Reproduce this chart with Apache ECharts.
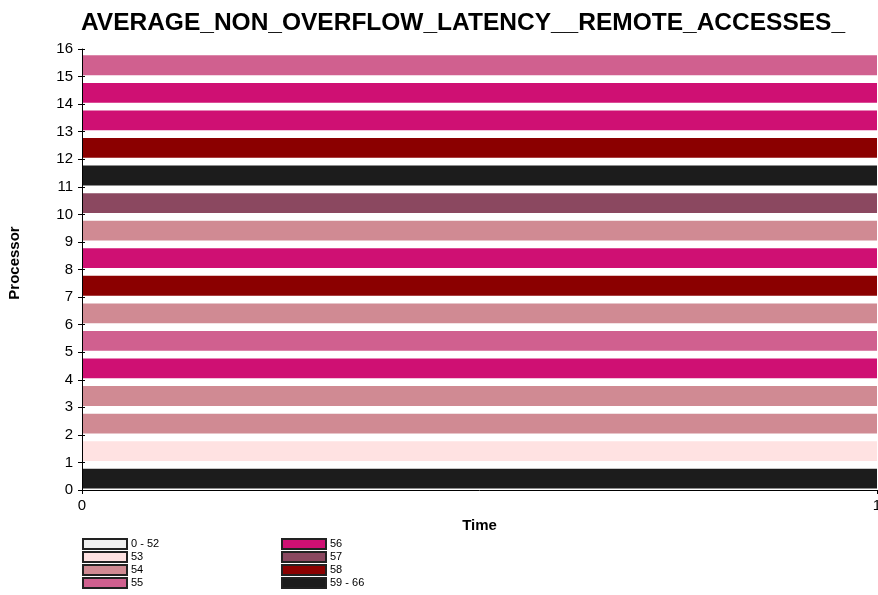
<!DOCTYPE html>
<html>
<head>
<meta charset="utf-8">
<script src="https://cdn.jsdelivr.net/npm/echarts@6/dist/echarts.min.js"></script>
<style>
	html,body{margin:0;padding:0;background:#fff;}
	#chart{width:878px;height:595px;}
</style>
</head>
<body>
<div id="chart"></div>
<script>
// 每个处理器的平均延迟（按图例区间读取）
var processors = [0,1,2,3,4,5,6,7,8,9,10,11,12,13,14,15];
var latency = [60,53,54,54,56,55,54,58,56,54,57,60,58,56,56,55];
// 图例区间
var binNames = ['0 - 52','53','54','55','56','57','58','59 - 66'];
var binMin = [0,53,54,55,56,57,58,59];
var binMax = [52,53,54,55,56,57,58,66];
var binColors = ['#f0f0f0','#ffe2e2','#d08a93','#d0608f','#cf1073','#8b4860','#8b0000','#1c1c1c'];
var timeStart = 0, timeEnd = 1;

var myChart = echarts.init(document.getElementById('chart'));

function renderBar(params, api){
	var p = api.value(0);
	var a = api.coord([timeStart, p + 0.05]);
	var b = api.coord([timeEnd, p + 0.77]);
	var r = echarts.graphic.clipRectByRect({
		x: a[0] + 1, y: b[1], width: b[0] - a[0] - 1, height: a[1] - b[1]
	}, {
		x: params.coordSys.x, y: params.coordSys.y,
		width: params.coordSys.width, height: params.coordSys.height
	});
	return r && {type:'rect', shape:r, style:{fill:api.visual('color')}};
}

var series = [];
for(var i=0;i<binNames.length;i++){
	var d = [];
	for(var j=0;j<processors.length;j++){
		if(latency[j]>=binMin[i] && latency[j]<=binMax[i]){
			d.push([processors[j], latency[j]]);
		}
	}
	series.push({
		name: binNames[i],
		type: 'custom',
		renderItem: renderBar,
		itemStyle: {color: binColors[i], borderColor:'#222', borderWidth:1},
		encode: {y: 0},
		data: d
	});
}

var legendCommon = {
	orient: 'vertical',
	itemWidth: 44,
	itemHeight: 10,
	itemGap: 1,
	icon: 'rect',
	textStyle: {fontFamily:'Liberation Sans', fontSize:11, lineHeight:10, color:'#000', padding:[0,0,0,-1]},
	padding: 0
};

var tickLabel = {fontFamily:'Liberation Sans', fontSize:15, color:'#000'};

option = {
	animation: false,
	title: {
		text: 'AVERAGE_NON_OVERFLOW_LATENCY__REMOTE_ACCESSES_',
		left: 458, top: 6, textAlign: 'center',
		textStyle: {fontFamily:'Liberation Sans', fontWeight:'bold', fontSize:24.5, color:'#000'}
	},
	graphic: [{
		type: 'text', x: 15, y: 263, rotation: Math.PI / 2,
		style: {text:'Processor', align:'center', verticalAlign:'middle',
			font:'bold 15px "Liberation Sans"', fill:'#000'}
	}],
	legend: [
		echarts.util.extend({left:82, top:538, data: binNames.slice(0,4)}, legendCommon),
		echarts.util.extend({left:281, top:538, data: binNames.slice(4)}, legendCommon)
	],
	grid: {left:82, right:1, top:49, bottom:105, outerBoundsMode:'none', containLabel:false},
	xAxis: {
		type: 'value', min: 0, max: 1, interval: 1,
		name: 'Time', nameLocation: 'middle', nameGap: 26,
		nameTextStyle: {fontFamily:'Liberation Sans', fontWeight:'bold', fontSize:15, color:'#000'},
		axisLine: {show:true, lineStyle:{color:'#000'}},
		axisTick: {show:true, length:4, lineStyle:{color:'#000'}},
		axisLabel: echarts.util.extend({margin:8}, tickLabel),
		splitLine: {show:false}
	},
	yAxis: [{
		type: 'value', min: 0, max: 16, interval: 1,
		axisLine: {show:true, lineStyle:{color:'#000'}},
		axisTick: {show:true, length:4, lineStyle:{color:'#000'}},
		axisLabel: echarts.util.extend({margin:9}, tickLabel),
		splitLine: {show:false}
	}, {
		// 刻度线向内的一半
		type: 'value', min: 0, max: 16, interval: 1, position: 'left', offset: 0,
		axisLine: {show:false},
		axisTick: {show:true, inside:true, length:3, lineStyle:{color:'#000'}},
		axisLabel: {show:false},
		splitLine: {show:false}
	}],
	series: series
};

myChart.setOption(option);
</script>
</body>
</html>
